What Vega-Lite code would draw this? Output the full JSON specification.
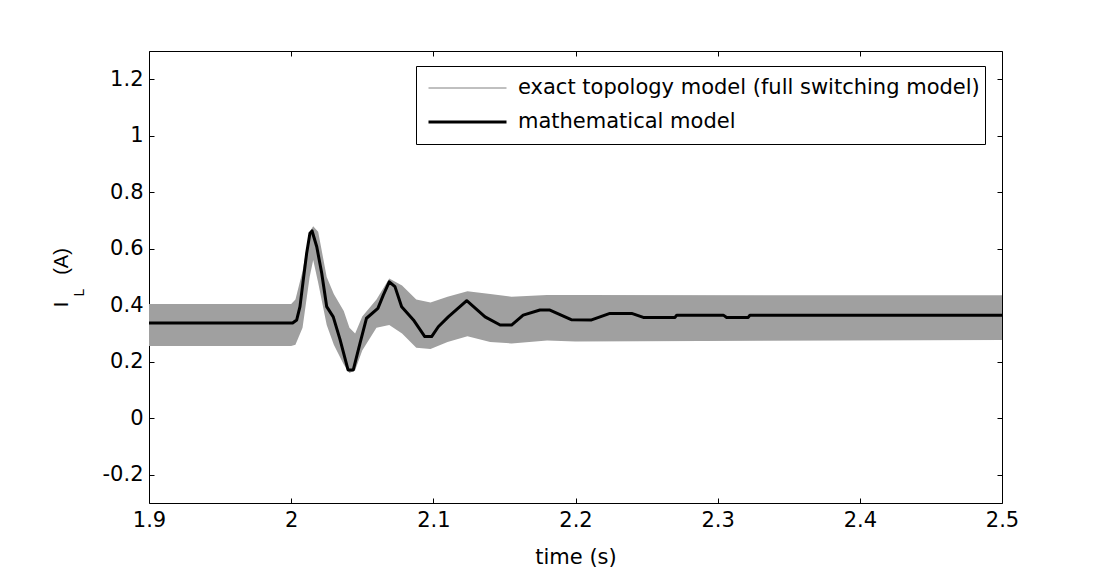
{
  "$schema": "https://vega.github.io/schema/vega-lite/v6.json",
  "width": 853,
  "height": 452,
  "autosize": "none",
  "padding": {"left": 149, "top": 51, "right": 103, "bottom": 71},
  "background": "white",
  "datasets": {
    "band": [
      {"t": 1.9, "lo": 0.256, "hi": 0.404},
      {"t": 2.0, "lo": 0.256, "hi": 0.404},
      {"t": 2.003, "lo": 0.26, "hi": 0.42},
      {"t": 2.008, "lo": 0.32, "hi": 0.52},
      {"t": 2.013, "lo": 0.5, "hi": 0.66},
      {"t": 2.0155, "lo": 0.56, "hi": 0.68},
      {"t": 2.019, "lo": 0.48, "hi": 0.66},
      {"t": 2.025, "lo": 0.33, "hi": 0.5},
      {"t": 2.03, "lo": 0.26, "hi": 0.44},
      {"t": 2.037, "lo": 0.19, "hi": 0.38},
      {"t": 2.041, "lo": 0.16, "hi": 0.32},
      {"t": 2.045, "lo": 0.17, "hi": 0.3},
      {"t": 2.05, "lo": 0.24, "hi": 0.36},
      {"t": 2.06, "lo": 0.32, "hi": 0.42},
      {"t": 2.069, "lo": 0.33, "hi": 0.495},
      {"t": 2.078, "lo": 0.3, "hi": 0.47},
      {"t": 2.088, "lo": 0.25, "hi": 0.42},
      {"t": 2.098, "lo": 0.245, "hi": 0.41},
      {"t": 2.11, "lo": 0.27, "hi": 0.43},
      {"t": 2.124, "lo": 0.29, "hi": 0.45},
      {"t": 2.14, "lo": 0.27, "hi": 0.44},
      {"t": 2.155, "lo": 0.265, "hi": 0.43},
      {"t": 2.18, "lo": 0.275, "hi": 0.436},
      {"t": 2.2, "lo": 0.272, "hi": 0.436},
      {"t": 2.5, "lo": 0.277, "hi": 0.435}
    ],
    "math": [
      {"t": 1.9, "v": 0.337, "series": "mathematical model"},
      {"t": 2.001, "v": 0.337, "series": "mathematical model"},
      {"t": 2.0039, "v": 0.348, "series": "mathematical model"},
      {"t": 2.0062, "v": 0.395, "series": "mathematical model"},
      {"t": 2.0085, "v": 0.489, "series": "mathematical model"},
      {"t": 2.0109, "v": 0.584, "series": "mathematical model"},
      {"t": 2.0132, "v": 0.655, "series": "mathematical model"},
      {"t": 2.0147, "v": 0.663, "series": "mathematical model"},
      {"t": 2.018, "v": 0.607, "series": "mathematical model"},
      {"t": 2.0215, "v": 0.513, "series": "mathematical model"},
      {"t": 2.025, "v": 0.395, "series": "mathematical model"},
      {"t": 2.0296, "v": 0.359, "series": "mathematical model"},
      {"t": 2.0343, "v": 0.28, "series": "mathematical model"},
      {"t": 2.04, "v": 0.171, "series": "mathematical model"},
      {"t": 2.0437, "v": 0.171, "series": "mathematical model"},
      {"t": 2.0484, "v": 0.265, "series": "mathematical model"},
      {"t": 2.053, "v": 0.354, "series": "mathematical model"},
      {"t": 2.061, "v": 0.389, "series": "mathematical model"},
      {"t": 2.0648, "v": 0.436, "series": "mathematical model"},
      {"t": 2.069, "v": 0.483, "series": "mathematical model"},
      {"t": 2.073, "v": 0.466, "series": "mathematical model"},
      {"t": 2.0777, "v": 0.395, "series": "mathematical model"},
      {"t": 2.086, "v": 0.348, "series": "mathematical model"},
      {"t": 2.094, "v": 0.289, "series": "mathematical model"},
      {"t": 2.0988, "v": 0.289, "series": "mathematical model"},
      {"t": 2.1035, "v": 0.324, "series": "mathematical model"},
      {"t": 2.1105, "v": 0.359, "series": "mathematical model"},
      {"t": 2.1235, "v": 0.416, "series": "mathematical model"},
      {"t": 2.1364, "v": 0.359, "series": "mathematical model"},
      {"t": 2.147, "v": 0.33, "series": "mathematical model"},
      {"t": 2.155, "v": 0.33, "series": "mathematical model"},
      {"t": 2.1632, "v": 0.365, "series": "mathematical model"},
      {"t": 2.175, "v": 0.383, "series": "mathematical model"},
      {"t": 2.182, "v": 0.383, "series": "mathematical model"},
      {"t": 2.197, "v": 0.349, "series": "mathematical model"},
      {"t": 2.2113, "v": 0.348, "series": "mathematical model"},
      {"t": 2.2242, "v": 0.371, "series": "mathematical model"},
      {"t": 2.2395, "v": 0.371, "series": "mathematical model"},
      {"t": 2.2477, "v": 0.357, "series": "mathematical model"},
      {"t": 2.27, "v": 0.357, "series": "mathematical model"},
      {"t": 2.2712, "v": 0.365, "series": "mathematical model"},
      {"t": 2.304, "v": 0.365, "series": "mathematical model"},
      {"t": 2.3063, "v": 0.357, "series": "mathematical model"},
      {"t": 2.3215, "v": 0.357, "series": "mathematical model"},
      {"t": 2.3227, "v": 0.365, "series": "mathematical model"},
      {"t": 2.5, "v": 0.365, "series": "mathematical model"}
    ]
  },
  "config": {
    "view": {"stroke": "black", "strokeWidth": 1},
    "axis": {
      "grid": false,
      "domain": false,
      "offset": -5,
      "tickColor": "black",
      "tickWidth": 1,
      "tickSize": 5,
      "labelColor": "black",
      "titleColor": "black",
      "labelFont": "DejaVu Sans",
      "titleFont": "DejaVu Sans",
      "labelFontSize": 21,
      "titleFontSize": 21,
      "titleFontWeight": "normal"
    },
    "legend": {
      "orient": "none",
      "legendX": 267,
      "legendY": 15,
      "strokeColor": "black",
      "fillColor": "white",
      "padding": 5,
      "symbolType": "stroke",
      "symbolSize": 6084,
      "clipHeight": 34,
      "rowPadding": 0,
      "symbolOffset": 6,
      "labelFont": "DejaVu Sans",
      "labelFontSize": 21,
      "labelColor": "black",
      "labelOffset": 10,
      "labelLimit": 0
    }
  },
  "layer": [
    {
      "data": {"name": "band"},
      "mark": {"type": "area", "fill": "#a0a0a0", "stroke": null},
      "encoding": {
        "x": {
          "field": "t", "type": "quantitative",
          "scale": {"domain": [1.9, 2.5], "nice": false, "zero": false},
          "axis": {
            "orient": "bottom",
            "offset": -5,
            "values": [1.9, 2, 2.1, 2.2, 2.3, 2.4, 2.5],
            "labelExpr": "'' + datum.value",
            "labelPadding": 6,
            "labelFlush": false,
            "labelOverlap": false,
            "title": "time (s)",
            "titlePadding": 16
          }
        },
        "y": {
          "field": "lo", "type": "quantitative",
          "scale": {"domain": [-0.3, 1.3], "nice": false, "zero": false},
          "axis": {
            "orient": "left",
            "offset": -5,
            "values": [-0.2, 0, 0.2, 0.4, 0.6, 0.8, 1, 1.2],
            "labelExpr": "'' + datum.value",
            "labelPadding": 6,
            "labelFlush": false,
            "labelOverlap": false,
            "title": "I",
            "titleFont": "Liberation Sans",
            "titleFontSize": 20,
            "titleAngle": -90,
            "titleAlign": "center",
            "titleBaseline": "alphabetic",
            "titleX": -87,
            "titleY": 253
          }
        },
        "y2": {"field": "hi"}
      }
    },
    {
      "data": {"name": "math"},
      "mark": {"type": "line", "strokeJoin": "round"},
      "encoding": {
        "x": {
          "field": "t", "type": "quantitative",
          "axis": {
            "orient": "top",
            "offset": -5,
            "values": [1.9, 2, 2.1, 2.2, 2.3, 2.4, 2.5],
            "labels": false,
            "title": "(A)",
            "titleFont": "Liberation Sans",
            "titleFontSize": 20,
            "titleAngle": -90,
            "titleAlign": "center",
            "titleBaseline": "alphabetic",
            "titleX": -82,
            "titleY": 205
          }
        },
        "y": {
          "field": "v", "type": "quantitative",
          "axis": {
            "orient": "right",
            "offset": -5,
            "values": [-0.2, 0, 0.2, 0.4, 0.6, 0.8, 1, 1.2],
            "labels": false,
            "title": "L",
            "titleFont": "Liberation Sans",
            "titleFontSize": 14,
            "titleAngle": -90,
            "titleAlign": "center",
            "titleBaseline": "alphabetic",
            "titleX": -914,
            "titleY": 241
          }
        },
        "color": {
          "field": "series", "type": "nominal",
          "scale": {
            "domain": ["exact topology model (full switching model)", "mathematical model"],
            "range": ["#808080", "black"]
          },
          "legend": {"title": null}
        },
        "strokeWidth": {
          "field": "series", "type": "nominal",
          "scale": {
            "domain": ["exact topology model (full switching model)", "mathematical model"],
            "range": [1, 3]
          },
          "legend": {"title": null}
        }
      }
    }
  ],
  "resolve": {"axis": {"x": "independent", "y": "independent"}}
}
